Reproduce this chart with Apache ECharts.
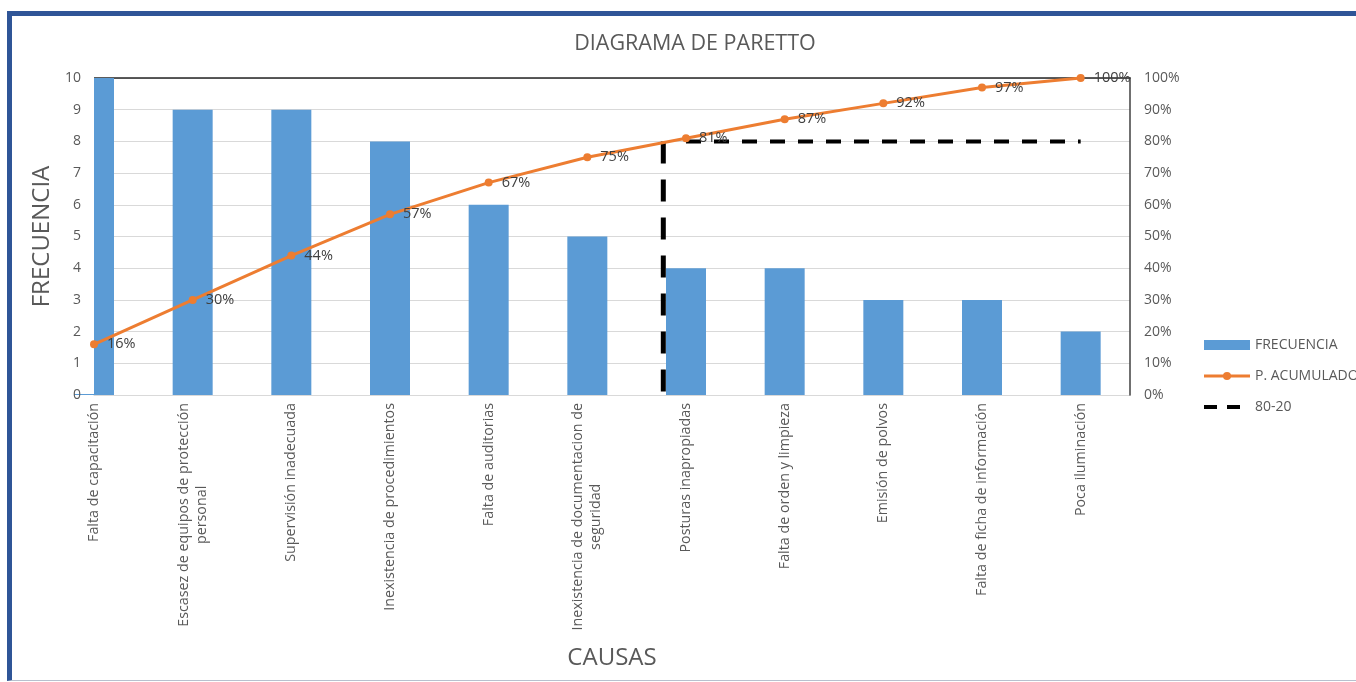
<!DOCTYPE html>
<html>
<head>
<meta charset="utf-8">
<title>Diagrama de Paretto</title>
<script src="https://cdn.jsdelivr.net/npm/echarts@6/dist/echarts.min.js"></script>
<style>
  html, body { margin: 0; padding: 0; background: #ffffff; overflow: hidden; }
  #frame {
    position: absolute; left: 7px; top: 11px; width: 1400px; height: 664px;
    border-left: 5px solid #2F5597; border-top: 5px solid #2F5597;
    border-bottom: 1px solid #B8C0CE;
  }
  #chart { position: absolute; left: 0; top: 0; width: 1356px; height: 682px; }
</style>
</head>
<body>
<div id="frame"></div>
<div id="chart"></div>
<script>
// Causas ordenadas de mayor a menor frecuencia
const causas = [
  'Falta de capacitación',
  'Escasez de equipos de protección personal',
  'Supervisión inadecuada',
  'Inexistencia de procedimientos',
  'Falta de auditorias',
  'Inexistencia de documentacion de seguridad',
  'Posturas inapropiadas',
  'Falta de orden y limpieza',
  'Emisión de polvos',
  'Falta de ficha de información',
  'Poca iluminación'
];
const frecuencia = [10, 9, 9, 8, 6, 5, 4, 4, 3, 3, 2];
// Porcentaje acumulado (%)
const acumulado = [16, 30, 44, 57, 67, 75, 81, 87, 92, 97, 100];
// Línea de corte 80-20: tramo vertical y tramo horizontal (posición en el eje de causas, %)
const corteVertical = [[5.77, 80], [5.77, 0]];
const corteHorizontal = [[6, 80], [10, 80]];

const FONT = '"Open Sans", "Liberation Sans", sans-serif';
const GRIS = '#595959';

// Parte las etiquetas largas en dos líneas
function partir(texto, max) {
  if (texto.length <= max) return [texto];
  const corte = texto.lastIndexOf(' ', max);
  return [texto.slice(0, corte), texto.slice(corte + 1)];
}

const chart = echarts.init(document.getElementById('chart'), null, { renderer: 'canvas' });

chart.setOption({
  animation: false,
  textStyle: { fontFamily: FONT },
  title: {
    text: 'DIAGRAMA DE PARETTO',
    left: 690, top: 28, textAlign: 'center',
    textStyle: { fontFamily: FONT, fontSize: 21.5, fontWeight: 'normal', color: GRIS }
  },
  legend: {
    orient: 'vertical',
    left: 1202, top: 338,
    padding: 0,
    itemWidth: 46, itemHeight: 10, itemGap: 17,
    textStyle: { fontFamily: FONT, fontSize: 14, color: GRIS },
    data: [
      { name: 'FRECUENCIA', icon: 'rect', itemStyle: { borderWidth: 0 } },
      { name: 'P. ACUMULADO', lineStyle: { width: 3 } },
      { name: '80-20', itemStyle: { opacity: 0 }, lineStyle: { width: 4, type: [13, 10] } }
    ]
  },
  grid: { left: 94, right: 226, top: 78, bottom: 287, containLabel: false },
  xAxis: [
    {
      type: 'value', min: 0, max: 10.5, interval: 1,
      position: 'bottom',
      axisLine: { show: true, onZero: false, lineStyle: { color: '#D9D9D9', width: 1 } },
      axisTick: { show: false },
      splitLine: { show: false },
      axisLabel: {
        rotate: 90, margin: 8, showMaxLabel: false,
        formatter: function (v) {
          const i = Math.round(v);
          if (Math.abs(v - i) > 1e-6 || !causas[i]) return '';
          return partir(causas[i], 32).map(l => '{c|' + l + '}').join('\n');
        },
        rich: { c: { align: 'center', fontFamily: FONT, fontSize: 14.3, color: GRIS, lineHeight: 18 } }
      },
      name: 'CAUSAS', nameLocation: 'middle', nameGap: 251,
      nameTextStyle: { fontFamily: FONT, fontSize: 24, color: GRIS }
    },
    {
      // borde superior del área de trazado
      type: 'value', min: 0, max: 10.5, interval: 1,
      position: 'top', z: 1,
      axisLine: { show: true, onZero: false, lineStyle: { color: '#262626', width: 1.5 } },
      axisTick: { show: false },
      axisLabel: { show: false },
      splitLine: { show: false }
    }
  ],
  yAxis: [
    {
      // frecuencia: líneas de cuadrícula y título
      type: 'value', min: 0, max: 10, interval: 1,
      axisLine: { show: false },
      axisTick: { show: false },
      axisLabel: { show: false },
      splitLine: { lineStyle: { color: '#D9D9D9', width: 1 } },
      name: 'FRECUENCIA', nameLocation: 'middle', nameGap: 40,
      nameTextStyle: { fontFamily: FONT, fontSize: 24, color: GRIS }
    },
    {
      type: 'value', min: 0, max: 100, interval: 10,
      position: 'right', z: 1,
      axisLine: { show: true, onZero: false, lineStyle: { color: '#404040', width: 1.5 } },
      axisTick: { show: false },
      axisLabel: { margin: 14, formatter: '{value}%', fontFamily: FONT, fontSize: 14, color: GRIS },
      splitLine: { show: false }
    },
    {
      // frecuencia: etiquetas, por encima de todo
      type: 'value', min: 0, max: 10, interval: 1,
      position: 'left', z: 8,
      axisLine: { show: false },
      axisTick: { show: false },
      axisLabel: { margin: 13, fontFamily: FONT, fontSize: 14, color: GRIS },
      splitLine: { show: false }
    }
  ],
  series: [
    {
      name: 'FRECUENCIA', type: 'bar',
      xAxisIndex: 0, yAxisIndex: 0,
      barWidth: 40, z: 2,
      itemStyle: { color: '#5B9BD5' },
      data: frecuencia.map((v, i) => [i, v])
    },
    {
      name: '80-20', type: 'line',
      xAxisIndex: 0, yAxisIndex: 1,
      symbol: 'none', z: 5,
      lineStyle: { color: '#000000', width: 4, type: [15, 13] },
      itemStyle: { color: '#000000' },
      data: corteHorizontal
    },
    {
      name: '80-20', type: 'line',
      xAxisIndex: 0, yAxisIndex: 1,
      symbol: 'none', z: 5,
      lineStyle: { color: '#000000', width: 5, type: [22, 16] },
      itemStyle: { color: '#000000' },
      data: corteVertical
    },
    {
      name: 'P. ACUMULADO', type: 'line',
      xAxisIndex: 0, yAxisIndex: 1,
      symbol: 'circle', symbolSize: 8, z: 6, clip: false,
      itemStyle: { color: '#ED7D31' },
      lineStyle: { color: '#ED7D31', width: 3 },
      label: {
        show: true, position: 'right', distance: 9,
        formatter: p => p.value[1] + '%',
        fontFamily: FONT, fontSize: 14.5, color: '#404040'
      },
      data: acumulado.map((v, i) => [i, v])
    }
  ]
});

// Las barras no se recortan en el borde del área de trazado:
// se tapa con blanco la parte de la primera barra que sale por la izquierda.
const izq = chart.convertToPixel({ xAxisIndex: 0 }, 0);
const arriba = chart.convertToPixel({ yAxisIndex: 0 }, 10);
const abajo = chart.convertToPixel({ yAxisIndex: 0 }, 0);
chart.setOption({
  graphic: [{
    type: 'rect', z: 3, silent: true,
    shape: { x: izq - 40, y: arriba - 2, width: 40, height: abajo - arriba + 1 },
    style: { fill: '#ffffff' }
  }]
});
</script>
</body>
</html>
